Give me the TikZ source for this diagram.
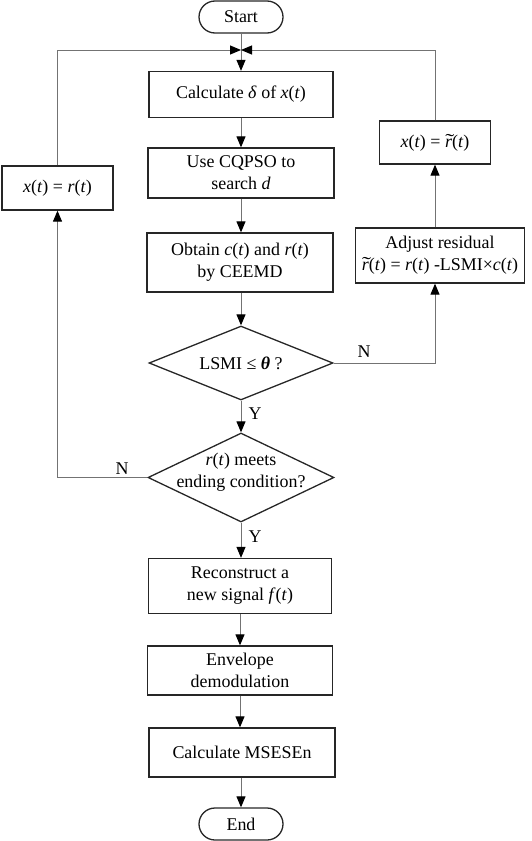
\documentclass[tikz,border=0pt]{standalone}
\usepackage{fontspec}
\usepackage{graphicx}
\setmainfont{Liberation Serif}
\usetikzlibrary{arrows.meta,shapes.geometric}
\newcommand{\iv}[1]{\textit{#1}}
\newcommand{\rt}{\makebox[0pt][l]{\hspace{0.02em}\raisebox{0.1ex}{\scalebox{1.5}[1]{\char"02DC}}}\iv{r}}
\begin{document}
\begin{tikzpicture}[x=1bp,y=-1bp,
  every node/.style={font=\fontsize{18}{22}\selectfont, text=black},
  procbox/.style={draw=black!85, line width=1.3bp, rectangle, inner sep=0pt, align=center},
  term/.style={draw=black!85, line width=1.3bp, rectangle, rounded corners=16bp, inner sep=0pt, minimum width=84bp, minimum height=32bp},
  decis/.style={draw=black!85, line width=1.3bp, diamond, inner sep=0pt},
  conn/.style={draw=black!55, line width=1bp},
  arr/.style={conn, -{Triangle[length=11bp,width=9bp,color=black]}},
  lbl/.style={inner sep=0pt}
]
\useasboundingbox (0,0) rectangle (532,841);

\node[term] (start) at (241,17) {Start};
\node[procbox, minimum width=184bp, minimum height=46bp] (calc) at (241,94.5) {Calculate \iv{δ} of \iv{x}(\iv{t})};
\node[procbox, minimum width=186bp, minimum height=50bp] (cqpso) at (241,173) {Use CQPSO to\\search \iv{d}};
\node[procbox, minimum width=186bp, minimum height=59bp] (obt) at (240,262.5) {Obtain \iv{c}(\iv{t}) and \iv{r}(\iv{t})\\by CEEMD};
\node[decis, minimum width=184bp, minimum height=74bp, label={[lbl]center:LSMI ≤ \textbf{\textit{θ}} ?}] (d1) at (241,363) {};
\node[decis, minimum width=186bp, minimum height=89bp, label={[lbl,align=center,yshift=5bp]center:\iv{r}(\iv{t}) meets\\ending condition?}] (d2) at (241,477.5) {};
\node[procbox, minimum width=183bp, minimum height=55bp] (rec) at (240,586) {Reconstruct a\\new signal \iv{f}(\iv{t})};
\node[procbox, minimum width=185bp, minimum height=49bp] (env) at (240,670.5) {Envelope\\demodulation};
\node[procbox, minimum width=186bp, minimum height=49bp] (mse) at (242,752.5) {Calculate MSESEn};
\node[term] (end) at (241,824) {End};

\node[procbox, minimum width=111bp, minimum height=44bp] (lbox) at (57.5,188) {\iv{x}(\iv{t}) = \iv{r}(\iv{t})};
\node[procbox, minimum width=111bp, minimum height=43bp] (rbox) at (435,142.5) {\iv{x}(\iv{t}) = \rt(\iv{t})};
\node[procbox, minimum width=169bp, minimum height=55bp] (adj) at (440,255.5) {Adjust residual\\\rt(\iv{t}) = \iv{r}(\iv{t}) -LSMI×\iv{c}(\iv{t})};

\coordinate (m) at (241,50);
\coordinate (rx) at (435,50);
\coordinate (lx) at (57.5,50);

\draw[conn] (start) -- (m);
\draw[arr] (m) -- (calc);
\draw[arr] (lbox.north) |- (m);
\draw[arr] (rbox.north) |- (m);
\draw[arr] (calc) -- (cqpso);
\draw[arr] (cqpso) -- (obt.north -| cqpso);
\draw[arr] (obt.south -| d1) -- (d1);
\draw[arr] (d1) -- (d2);
\draw[arr] (d2) -- (rec.north -| d2);
\draw[arr] (rec) -- (env);
\draw[arr] (env) -- (mse.north -| env);
\draw[arr] (mse.south -| end) -- (end);
\draw[arr] (d1.east) -| (adj.south -| rx);
\draw[arr] (adj.north -| rx) -- (rbox.south -| rx);
\draw[arr] (d2.west) -| (lbox.south);

\node[lbl] (n1) at (364,352) {N};
\node[lbl] (n2) at (122,469) {N};
\node[lbl] (y1) at (255,414) {Y};
\node[lbl] (y2) at (255,537) {Y};
\end{tikzpicture}
\end{document}
